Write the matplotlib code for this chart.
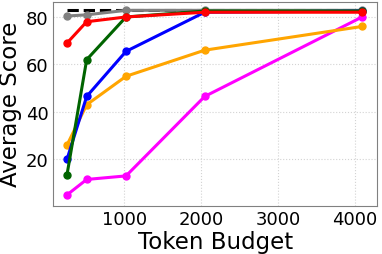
import numpy as np
import matplotlib
matplotlib.use("Agg")
import matplotlib.pyplot as plt

budgets = [256, 512, 1024, 2048, 4096]
magenta = [5, 11.5, 13, 46.5, 80]
orange = [26, 43, 55, 66, 76]
blue = [20, 46.5, 65.5, 82, 82.5]
green = [13.5, 62, 80, 82.5, 82.5]
red = [69, 78, 80, 82, 82]
gray = [80.4, 80.9, 82.8, 82.8, 82.8]
baseline = 82.9

fig, ax = plt.subplots(figsize=(3.82, 2.55), dpi=100)
ax.plot([budgets[0], budgets[-1]], [baseline, baseline], color="black", ls="--", lw=2.2, zorder=1)
ax.plot(budgets, gray, color="gray", marker="o", lw=2.2, ms=5, zorder=2)
ax.plot(budgets, magenta, color="magenta", marker="o", lw=2.2, ms=5, zorder=3)
ax.plot(budgets, orange, color="orange", marker="o", lw=2.2, ms=5, zorder=3)
ax.plot(budgets, blue, color="blue", marker="o", lw=2.2, ms=5, zorder=3)
ax.plot(budgets, green, color="darkgreen", marker="o", lw=2.2, ms=5, zorder=4)
ax.plot(budgets, red, color="red", marker="o", lw=2.2, ms=5, zorder=5)

ax.set_xlim(80, 4290)
ax.set_ylim(0.5, 86.5)
ax.set_xticks([1000, 2000, 3000, 4000])
ax.set_yticks([20, 40, 60, 80])
ax.tick_params(labelsize=13, length=0)
ax.set_xlabel("Token Budget", fontsize=16.5, labelpad=1)
ax.set_ylabel("Average Score", fontsize=16.5, labelpad=3)
ax.grid(True, ls=":", color="lightgray", lw=0.8)
for s in ax.spines.values():
    s.set_color("gray")

plt.subplots_adjust(left=0.14, right=0.987, top=0.99, bottom=0.19)
plt.savefig("out.png")
